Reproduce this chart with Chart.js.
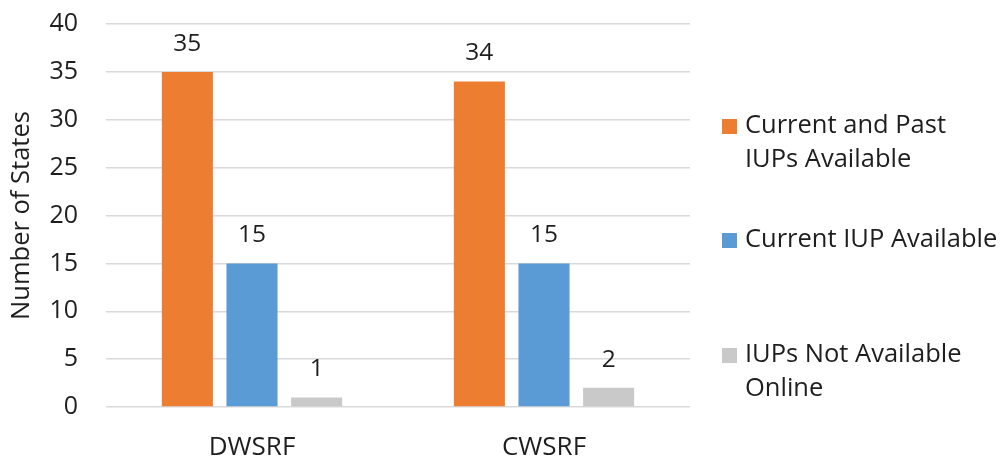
<!DOCTYPE html>
<html>
<head>
<meta charset="utf-8">
<script src="https://cdn.jsdelivr.net/npm/chart.js@4/dist/chart.umd.min.js"></script>
<style>
  html, body { margin: 0; padding: 0; background: #ffffff; }
  #wrap { width: 1003px; height: 457px; position: relative; }
</style>
</head>
<body>
<div id="wrap"><canvas id="c" width="1003" height="457"></canvas></div>
<script>
// Categories and series
const categories = ['DWSRF', 'CWSRF'];
const currentAndPast = [35, 34];
const currentOnly = [15, 15];
const notOnline = [1, 2];
const seriesNames = [
  ['Current and Past', 'IUPs Available'],
  ['Current IUP Available'],
  ['IUPs Not Available', 'Online']
];
const yTicks = [0, 5, 10, 15, 20, 25, 30, 35, 40];

const FONT = '"Open Sans", "Liberation Sans", sans-serif';
const TEXT = '#1e1e1e';
const colors = ['#ED7D31', '#5B9BD5', '#C9C9C9'];

// Value labels above each bar
const valueLabels = {
  id: 'valueLabels',
  afterDatasetsDraw(chart) {
    const ctx = chart.ctx;
    ctx.save();
    ctx.font = '24.5px ' + FONT;
    ctx.fillStyle = TEXT;
    ctx.textAlign = 'center';
    ctx.textBaseline = 'middle';
    chart.data.datasets.forEach((ds, i) => {
      chart.getDatasetMeta(i).data.forEach((bar, j) => {
        ctx.fillText(String(ds.data[j]), bar.x, bar.y - 28);
      });
    });
    ctx.restore();
  }
};

// Legend on the right with wrapped entries
const sideLegend = {
  id: 'sideLegend',
  afterDraw(chart) {
    const ctx = chart.ctx;
    const area = chart.chartArea;
    const boxX = area.right + 32;
    const textX = boxX + 23;
    const firstLines = [126, 240, 355];
    const lineH = 34;
    ctx.save();
    ctx.font = '25.5px ' + FONT;
    ctx.textAlign = 'left';
    ctx.textBaseline = 'middle';
    chart.data.datasets.forEach((ds, i) => {
      const y0 = firstLines[i];
      ctx.fillStyle = ds.backgroundColor;
      ctx.fillRect(boxX, y0 - 7, 15, 15);
      ctx.fillStyle = TEXT;
      ds.label.forEach((line, k) => ctx.fillText(line, textX, y0 + k * lineH));
    });
    ctx.restore();
  }
};

new Chart(document.getElementById('c'), {
  type: 'bar',
  data: {
    labels: categories,
    datasets: [
      { label: seriesNames[0], data: currentAndPast, backgroundColor: colors[0] },
      { label: seriesNames[1], data: currentOnly, backgroundColor: colors[1] },
      { label: seriesNames[2], data: notOnline, backgroundColor: colors[2] }
    ]
  },
  options: {
    responsive: false,
    animation: false,
    events: [],
    layout: { padding: { top: 24, right: 313, left: 0, bottom: 0 } },
    datasets: { bar: { categoryPercentage: 0.664, barPercentage: 0.79 } },
    plugins: {
      legend: { display: false },
      tooltip: { enabled: false }
    },
    scales: {
      x: {
        grid: { display: false },
        border: { display: false },
        ticks: { color: TEXT, font: { family: FONT, size: 26 }, padding: 17 },
        afterFit(scale) {
          scale.height = 50;
          scale.paddingTop = 0; scale.paddingBottom = 0;
        }
      },
      y: {
        min: 0, max: 40,
        afterBuildTicks(scale) { scale.ticks = yTicks.map(v => ({ value: v })); },
        grid: { color: '#D9D9D9', lineWidth: 1.5, drawTicks: false },
        border: { display: false },
        ticks: { color: TEXT, font: { family: FONT, size: 25 }, padding: 28 },
        title: {
          display: true, text: 'Number of States', color: TEXT,
          font: { family: FONT, size: 25.5 }, padding: { top: 6, bottom: 0 }
        },
        afterFit(scale) {
          scale.width = 106;
          scale.paddingTop = 0; scale.paddingBottom = 0;
        }
      }
    }
  },
  plugins: [valueLabels, sideLegend]
});
</script>
</body>
</html>
